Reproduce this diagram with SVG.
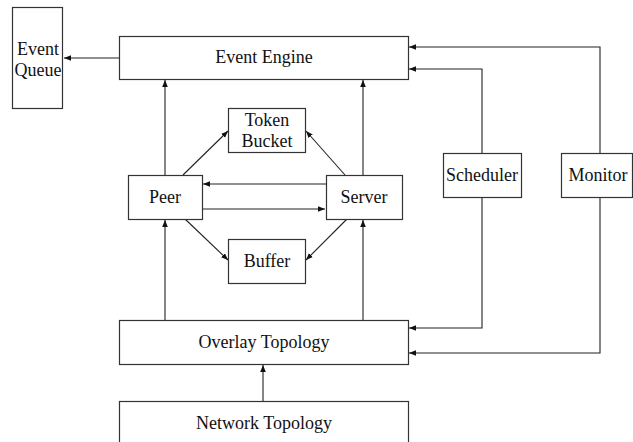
<svg xmlns="http://www.w3.org/2000/svg" width="633" height="442" viewBox="0 0 633 442">
<style>
.box{fill:#fff;stroke:#333;stroke-width:1.2}
.lbl{font-family:"Liberation Serif","Times New Roman",serif;font-size:18px;fill:#111;text-anchor:middle;dominant-baseline:central}
.ln{fill:none;stroke:#222;stroke-width:1.1}
</style>
<defs>
<marker id="ah" markerUnits="userSpaceOnUse" markerWidth="8" markerHeight="8" viewBox="0 0 8 8" refX="7" refY="4" orient="auto">
<path d="M0,1.2 L7,4 L0,6.8 Z" fill="#111"/>
</marker>
</defs>
<g id="connectors">
<line class="ln" x1="119" y1="58" x2="64" y2="58" marker-end="url(#ah)"/>
<line class="ln" x1="165" y1="175" x2="165" y2="80" marker-end="url(#ah)"/>
<line class="ln" x1="363" y1="175" x2="363" y2="80" marker-end="url(#ah)"/>
<line class="ln" x1="165" y1="320" x2="165" y2="220" marker-end="url(#ah)"/>
<line class="ln" x1="363" y1="320" x2="363" y2="220" marker-end="url(#ah)"/>
<line class="ln" x1="326" y1="184" x2="203" y2="184" marker-end="url(#ah)"/>
<line class="ln" x1="202" y1="209" x2="325" y2="209" marker-end="url(#ah)"/>
<line class="ln" x1="183" y1="175" x2="228" y2="131" marker-end="url(#ah)"/>
<line class="ln" x1="345" y1="175" x2="306" y2="131" marker-end="url(#ah)"/>
<line class="ln" x1="185" y1="219" x2="228" y2="260" marker-end="url(#ah)"/>
<line class="ln" x1="347" y1="219" x2="306" y2="260" marker-end="url(#ah)"/>
<polyline class="ln" points="482,153 482,69 409,69" marker-end="url(#ah)"/>
<polyline class="ln" points="600,153 600,47 409,47" marker-end="url(#ah)"/>
<polyline class="ln" points="482,197 482,328 409,328" marker-end="url(#ah)"/>
<polyline class="ln" points="600,197 600,353 409,353" marker-end="url(#ah)"/>
<line class="ln" x1="263" y1="401" x2="263" y2="365" marker-end="url(#ah)"/>
</g>
<g id="event-queue"><rect class="box" x="12.5" y="7.5" width="50" height="101"/><text class="lbl" x="38" y="49">Event</text><text class="lbl" x="38" y="70">Queue</text></g>
<g id="event-engine"><rect class="box" x="119.5" y="36.5" width="289" height="43"/><text class="lbl" x="264" y="57">Event Engine</text></g>
<g id="token-bucket"><rect class="box" x="228.5" y="108.5" width="77" height="44"/><text class="lbl" x="267" y="120">Token</text><text class="lbl" x="267" y="141">Bucket</text></g>
<g id="peer"><rect class="box" x="128.5" y="175.5" width="74" height="44"/><text class="lbl" x="165" y="197">Peer</text></g>
<g id="server"><rect class="box" x="326.5" y="175.5" width="76" height="44"/><text class="lbl" x="364" y="197">Server</text></g>
<g id="buffer"><rect class="box" x="228.5" y="239.5" width="77" height="44"/><text class="lbl" x="267" y="261">Buffer</text></g>
<g id="scheduler"><rect class="box" x="443.5" y="153.5" width="78" height="44"/><text class="lbl" x="482" y="175">Scheduler</text></g>
<g id="monitor"><rect class="box" x="561.5" y="153.5" width="71" height="44"/><text class="lbl" x="598" y="175">Monitor</text></g>
<g id="overlay-topology"><rect class="box" x="119.5" y="320.5" width="289" height="44"/><text class="lbl" x="264" y="342">Overlay Topology</text></g>
<g id="network-topology"><rect class="box" x="119.5" y="401.5" width="289" height="50"/><text class="lbl" x="264" y="423">Network Topology</text></g>
</svg>
